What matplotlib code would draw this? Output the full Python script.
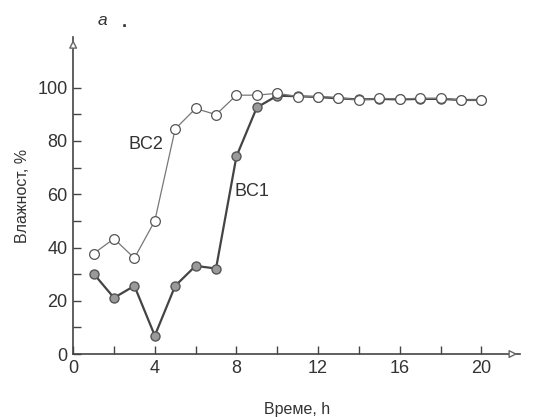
import matplotlib
matplotlib.use("Agg")
import matplotlib.pyplot as plt

hours = [1, 2, 3, 4, 5, 6, 7, 8, 9, 10, 11, 12, 13, 14, 15, 16, 17, 18, 19, 20]
bc2 = [37.7, 43.3, 36.0, 50.0, 84.5, 92.2, 89.9, 97.2, 97.2, 97.9, 96.7, 96.7, 96.3, 95.4, 96.0, 95.8, 96.0, 96.0, 95.4, 95.4]
bc1_hours = [1, 2, 3, 4, 5, 6, 7, 8, 9, 10, 11, 12, 13, 14, 15, 16, 17, 18, 19, 20]
bc1 = [30.2, 21.1, 25.6, 6.9, 25.6, 33.1, 32.1, 74.2, 92.6, 97.0, 96.8, 96.5, 96.0, 95.6, 95.8, 95.6, 95.8, 95.8, 95.4, 95.4]
xticks = [0, 4, 8, 12, 16, 20]
yticks = [0, 20, 40, 60, 80, 100]

plt.rcParams['font.family'] = ['Liberation Sans', 'DejaVu Sans']
tc = '#333333'

fig = plt.figure(figsize=(5.34, 4.17), dpi=100)
ax = fig.add_axes([0.137, 0.151, 0.974 - 0.137, 0.911 - 0.151])
ax.set_xlim(0, 21.9)
ax.set_ylim(0, 119)

ax.plot(bc1_hours, bc1, '-', color='#444444', lw=1.6, marker='o', ms=6.5,
        mfc='#9a9a9a', mec='#555555', mew=1.0, zorder=3)
ax.plot(hours, bc2, '-', color='#777777', lw=0.9, marker='o', ms=7,
        mfc='white', mec='#555555', mew=0.9, zorder=4)

for s in ['top', 'right']:
    ax.spines[s].set_visible(False)
for s in ['left', 'bottom']:
    ax.spines[s].set_color('#444444')
    ax.spines[s].set_linewidth(1.2)

ax.annotate('', xy=(1.0, 0), xycoords='axes fraction', xytext=(0.96, 0),
            arrowprops=dict(arrowstyle='-|>', color='#666666', lw=1.0,
                            mutation_scale=12, fc='white'))
ax.annotate('', xy=(0, 1.0), xycoords='axes fraction', xytext=(0, 0.96),
            arrowprops=dict(arrowstyle='-|>', color='#666666', lw=1.0,
                            mutation_scale=12, fc='white'))

ax.set_xticks(xticks)
ax.set_yticks(yticks)
ax.set_xticks([2, 6, 10, 14, 18], minor=True)
ax.set_yticks([10, 30, 50, 70, 90], minor=True)
ax.tick_params(which='both', direction='in', length=6, width=1.0, color='#444444',
               labelsize=13, labelcolor=tc, pad=4)

ax.set_xlabel('Време, h', fontsize=11.5, color=tc, labelpad=18)
ax.set_ylabel('Влажност, %', fontsize=11.5, color=tc, labelpad=5)

ax.text(2.7, 77, 'BC2', fontsize=13, color=tc)
ax.text(7.9, 59.5, 'BC1', fontsize=13, color=tc)
fig.text(0.182, 0.94, 'а', fontsize=12.5, style='italic', color=tc)
fig.text(0.228, 0.935, '.', fontsize=13, color=tc, fontweight='bold')

fig.savefig('out.png', dpi=100)
